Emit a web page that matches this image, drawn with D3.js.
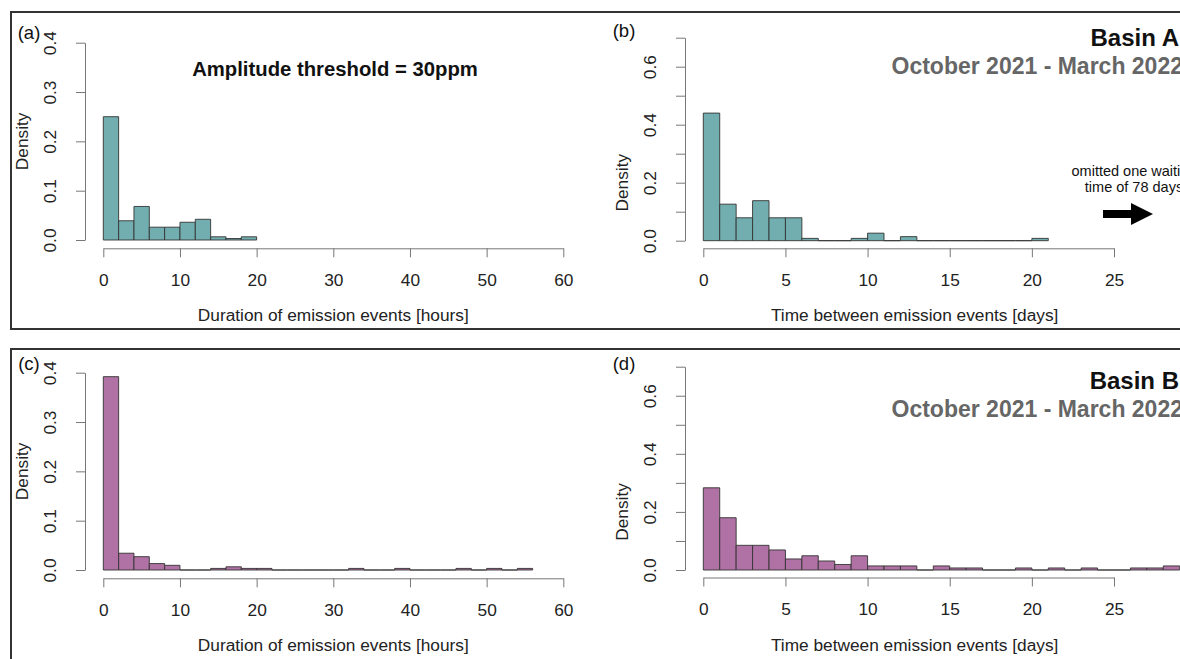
<!DOCTYPE html>
<html>
<head>
<meta charset="utf-8">
<script src="https://cdn.jsdelivr.net/npm/d3@7"></script>
<style>
  body { margin: 0; background: #fff; }
  svg { display: block; font-family: "Liberation Sans", Arial, Helvetica, sans-serif; }
</style>
</head>
<body>
<svg id="chart" width="1180" height="659"></svg>
<script>
// histogram densities, one value per bin, bins start at 0
// duration bins are 2 hours wide, waiting-time bins are 1 day wide
const durationA = [0.25, 0.039, 0.068, 0.026, 0.026, 0.036, 0.042, 0.0065, 0.003, 0.0065];
const waitA = [0.44, 0.126, 0.079, 0.138, 0.079, 0.079, 0.008, 0, 0, 0.008,
  0.026, 0, 0.014, 0, 0, 0, 0, 0, 0, 0, 0.008];
const durationB = [0.392, 0.034, 0.027, 0.013, 0.0095, 0, 0, 0.0032, 0.0065, 0.0032,
  0.0032, 0, 0, 0, 0, 0, 0.0032, 0, 0, 0.0032, 0, 0, 0, 0.0032, 0, 0.0032, 0, 0.0032];
const waitB = [0.283, 0.18, 0.085, 0.085, 0.069, 0.038, 0.049, 0.031, 0.019, 0.049,
  0.014, 0.014, 0.014, 0, 0.014, 0.007, 0.007, 0, 0, 0.007, 0, 0.007, 0, 0.007, 0, 0,
  0.007, 0.007, 0.014];

const hourTicks = [0, 10, 20, 30, 40, 50, 60];
const dayTicks = [0, 5, 10, 15, 20, 25];
const densityTicksA = [0, 0.1, 0.2, 0.3, 0.4];
const densityTicksB = [0, 0.1, 0.2, 0.3, 0.4, 0.5, 0.6, 0.7];
const densityLabelsB = [0, 0.2, 0.4, 0.6];

const teal = '#72aeaf';
const purple = '#b071a4';
const labelSize = 17.3;

const svg = d3.select('#chart');

// panel frames
svg.append('rect').attr('x', 11).attr('y', 12).attr('width', 1200).attr('height', 317)
  .attr('fill', 'none').attr('stroke', '#333').attr('stroke-width', 2);
svg.append('rect').attr('x', 11).attr('y', 349).attr('width', 1200).attr('height', 340)
  .attr('fill', 'none').attr('stroke', '#333').attr('stroke-width', 2);

const panels = [
  {
    tag: '(a)', tagPos: [29, 39], values: durationA, bin: 2, fill: teal,
    xDomain: [0, 60], xRange: [103.3, 563.3], xTicks: hourTicks,
    yDomain: [0, 0.4], yRange: [240, 42.7], yTicks: densityTicksA, yLabels: densityTicksA,
    xAxisY: 248.3, yAxisX: 85, xLabel: 'Duration of emission events [hours]', xLabelY: 315,
  },
  {
    tag: '(b)', tagPos: [624, 37], values: waitA, bin: 1, fill: teal,
    xDomain: [0, 25], xRange: [703.3, 1114], xTicks: dayTicks,
    yDomain: [0, 0.7], yRange: [240.7, 37.7], yTicks: densityTicksB, yLabels: densityLabelsB,
    xAxisY: 248.3, yAxisX: 685, xLabel: 'Time between emission events [days]', xLabelY: 315,
  },
  {
    tag: '(c)', tagPos: [29, 370], values: durationB, bin: 2, fill: purple,
    xDomain: [0, 60], xRange: [103.3, 563.3], xTicks: hourTicks,
    yDomain: [0, 0.4], yRange: [570, 372.7], yTicks: densityTicksA, yLabels: densityTicksA,
    xAxisY: 578.3, yAxisX: 85, xLabel: 'Duration of emission events [hours]', xLabelY: 645,
  },
  {
    tag: '(d)', tagPos: [624, 370], values: waitB, bin: 1, fill: purple,
    xDomain: [0, 25], xRange: [703.3, 1114], xTicks: dayTicks,
    yDomain: [0, 0.7], yRange: [570, 366.7], yTicks: densityTicksB, yLabels: densityLabelsB,
    xAxisY: 577.5, yAxisX: 685, xLabel: 'Time between emission events [days]', xLabelY: 645,
  },
];

panels.forEach((p) => {
  const x = d3.scaleLinear().domain(p.xDomain).range(p.xRange);
  const y = d3.scaleLinear().domain(p.yDomain).range(p.yRange);
  const g = svg.append('g');

  // bars (paths so that empty bins still show as a flat line)
  g.selectAll('path.bar')
    .data(p.values)
    .join('path')
    .attr('class', 'bar')
    .attr('d', (d, i) => {
      const x0 = x(i * p.bin);
      const x1 = x((i + 1) * p.bin);
      return `M${x0},${y(0)}V${y(d)}H${x1}V${y(0)}Z`;
    })
    .attr('fill', p.fill)
    .attr('stroke', '#333')
    .attr('stroke-width', 0.9);

  // x axis
  const xAxis = g.append('g')
    .attr('transform', `translate(0,${p.xAxisY})`)
    .call(d3.axisBottom(x).tickValues(p.xTicks).tickSize(9).tickSizeOuter(0).tickPadding(16)
      .tickFormat(d3.format('d')));
  xAxis.select('.domain').attr('stroke', '#777');
  xAxis.selectAll('.tick line').attr('stroke', '#777');
  xAxis.selectAll('.tick text').attr('font-size', labelSize).attr('fill', '#222');

  // y axis with rotated labels
  const yAxis = g.append('g')
    .attr('transform', `translate(${p.yAxisX},0)`)
    .call(d3.axisLeft(y).tickValues(p.yTicks).tickSize(9).tickSizeOuter(0)
      .tickFormat((d) => (p.yLabels.includes(d) ? d3.format('.1f')(d) : '')));
  yAxis.select('.domain').attr('stroke', '#777');
  yAxis.selectAll('.tick line').attr('stroke', '#777');
  yAxis.selectAll('.tick text')
    .attr('font-size', labelSize)
    .attr('fill', '#222')
    .attr('transform', 'rotate(-90)')
    .attr('text-anchor', 'middle')
    .attr('x', 0)
    .attr('y', -35)
    .attr('dy', '0.35em');

  g.append('text')
    .attr('transform', `translate(${p.yAxisX - 63},${y(0.2)}) rotate(-90)`)
    .attr('text-anchor', 'middle')
    .attr('dy', '0.35em')
    .attr('font-size', labelSize)
    .attr('fill', '#222')
    .text('Density');

  g.append('text')
    .attr('x', (p.xRange[0] + p.xRange[1]) / 2 + (p.xDomain[1] === 25 ? 6 : 0))
    .attr('y', p.xLabelY)
    .attr('dy', '0.35em')
    .attr('text-anchor', 'middle')
    .attr('font-size', labelSize)
    .attr('fill', '#222')
    .text(p.xLabel);

  g.append('text')
    .attr('x', p.tagPos[0])
    .attr('y', p.tagPos[1])
    .attr('text-anchor', 'middle')
    .attr('font-size', 18.5)
    .attr('fill', '#111')
    .text(p.tag);
});

// titles
svg.append('text')
  .attr('x', 335).attr('y', 76)
  .attr('text-anchor', 'middle')
  .attr('font-size', 20.3).attr('font-weight', 'bold').attr('fill', '#111')
  .text('Amplitude threshold = 30ppm');

const basins = [
  { name: 'Basin A', y1: 46, y2: 74 },
  { name: 'Basin B', y1: 389, y2: 417 },
];
basins.forEach((b) => {
  svg.append('text')
    .attr('x', 1179).attr('y', b.y1)
    .attr('text-anchor', 'end')
    .attr('font-size', 24).attr('font-weight', 'bold').attr('fill', '#111')
    .text(b.name);
  svg.append('text')
    .attr('x', 1183).attr('y', b.y2)
    .attr('text-anchor', 'end')
    .attr('font-size', 23).attr('font-weight', 'bold').attr('fill', '#666')
    .text('October 2021 - March 2022');
});

// annotation for the omitted waiting time
const note = svg.append('text')
  .attr('text-anchor', 'middle')
  .attr('font-size', 14.5)
  .attr('fill', '#111');
note.append('tspan').attr('x', 1134).attr('y', 176).text('omitted one waiting');
note.append('tspan').attr('x', 1134).attr('y', 192).text('time of 78 days');

svg.append('path')
  .attr('d', 'M1103,210H1131V203L1153,214L1131,225V218H1103Z')
  .attr('fill', '#000');
</script>
</body>
</html>
